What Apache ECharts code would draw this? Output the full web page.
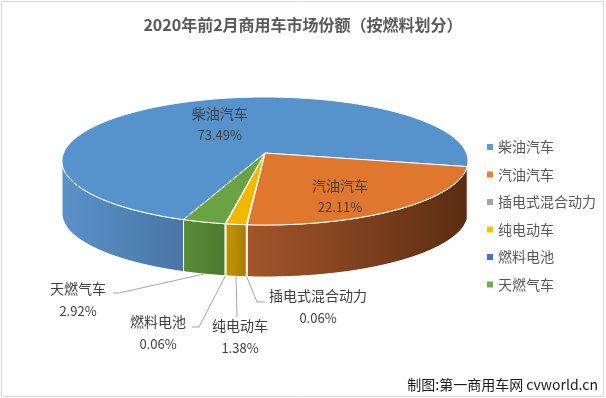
<!DOCTYPE html>
<html lang="zh">
<head>
<meta charset="UTF-8">
<title>2020年前2月商用车市场份额（按燃料划分）</title>
<script src="https://cdn.jsdelivr.net/npm/echarts@6/dist/echarts.min.js"></script>
<style>
  html, body { margin: 0; padding: 0; background: #fff; }
  #main { width: 606px; height: 398px; }
</style>
</head>
<body>
<div id="main"></div>
<script>
// 数据
var categories = ['柴油汽车', '汽油汽车', '插电式混合动力', '纯电动车', '燃料电池', '天燃气车'];
var shares = [73.49, 22.11, 0.06, 1.38, 0.06, 2.92];

// 颜色
var topColors = ['#5692cc', '#e0772f', '#a5a5a5', '#f2b800', '#4472c4', '#6aa343'];
var sideColors = [
    ['#5a91c9', '#4876a6'],
    ['#a3552a', '#5a2d12'],
    ['#8c8c8c', '#707070'],
    ['#c49400', '#a87e00'],
    ['#3c64ab', '#2f4f88'],
    ['#5a8c37', '#4d7a2e']
];

// 3D 饼图几何 (像素)
var CX = 265, CY = 161, RX = 203, RY = 64, DEPTH = 52;
var APEX = [265, 153];
var START = 110.2;   // 第一块起始角(顺时针, 3点钟为0)
var WARP = 10;       // 透视扭曲

// 内部标签微调
var innerShift = { 0: [-1, -9], 1: [0, 3] };
// 外部标签布局
var outerLabels = {
    2: { bend: [257, 302], end: [265, 302], text: [318, 298] },
    3: { bend: [237, 317], end: [237, 317], text: [240, 328] },
    4: { bend: [199, 327], end: [192, 327], text: [158, 324] },
    5: { bend: [119, 293], end: [113, 293], text: [78, 291] }
};

var total = shares.reduce(function (a, b) { return a + b; }, 0);
var spans = [];
(function () {
    var acc = START;
    shares.forEach(function (v) {
        var s = v / total * 360;
        spans.push([acc, acc + s]);
        acc += s;
    });
})();

function rad(d) { return d * Math.PI / 180; }
function warp(th) { return th + WARP * Math.sin(rad(th - 90)); }
function pt(t, dy) {
    return [CX + RX * Math.cos(rad(t)), CY + RY * Math.sin(rad(t)) + (dy || 0)];
}
function arc(t1, t2, dy) {
    var pts = [];
    var n = Math.max(1, Math.ceil(Math.abs(t2 - t1)));
    for (var i = 0; i <= n; i++) {
        pts.push(pt(t1 + (t2 - t1) * i / n, dy));
    }
    return pts;
}

function labelText(str, x, y, size) {
    return {
        type: 'text',
        style: {
            text: str, x: x, y: y,
            textAlign: 'center', textVerticalAlign: 'middle',
            fill: '#404040',
            font: size + 'px "Noto Sans CJK SC", sans-serif'
        },
        z2: 10
    };
}

function renderSide(params, api) {
    var i = params.dataIndex;
    var t1 = warp(spans[i][0]), t2 = warp(spans[i][1]);
    var children = [];
    for (var k = -1; k <= 2; k++) {
        var lo = Math.max(t1, 360 * k), hi = Math.min(t2, 360 * k + 180);
        if (hi <= lo) continue;
        var poly = arc(lo, hi, 0).concat(arc(hi, lo, DEPTH));
        var xs = poly.map(function (p) { return p[0]; });
        var x0 = Math.min.apply(null, xs), x1 = Math.max.apply(null, xs);
        children.push({
            type: 'polygon',
            shape: { points: poly },
            style: {
                fill: new echarts.graphic.LinearGradient(x0, 0, x1, 0, [
                    { offset: 0, color: sideColors[i][0] },
                    { offset: 1, color: sideColors[i][1] }
                ], true),
                stroke: '#ffffff',
                lineWidth: 1
            }
        });
    }
    return { type: 'group', children: children };
}

function renderTop(params, api) {
    var i = params.dataIndex;
    var t1 = warp(spans[i][0]), t2 = warp(spans[i][1]);
    var children = [{
        type: 'polygon',
        shape: { points: [APEX].concat(arc(t1, t2, 0)) },
        style: { fill: topColors[i], stroke: '#ffffff', lineWidth: 1 }
    }];
    var pct = api.value(0).toFixed(2) + '%';
    var mid = (spans[i][0] + spans[i][1]) / 2;
    if (outerLabels[i]) {
        var L = outerLabels[i];
        var s = pt(warp(mid), DEPTH);
        children.push({
            type: 'polyline',
            shape: { points: [s, L.bend, L.end] },
            style: { stroke: '#a6a6a6', lineWidth: 1, fill: null },
            z2: 5
        });
        children.push(labelText(categories[i], L.text[0], L.text[1] - 2, 14));
        children.push(labelText(pct, L.text[0], L.text[1] + 20, 13));
    } else {
        var c = pt(warp(mid), 0);
        var f = 0.56;
        var sh = innerShift[i] || [0, 0];
        var x = CX + (c[0] - CX) * f + sh[0], y = CY + (c[1] - CY) * f + 6 + sh[1];
        children.push(labelText(categories[i], x, y - 11, 14));
        children.push(labelText(pct, x, y + 10, 13));
    }
    return { type: 'group', children: children };
}

var chart = echarts.init(document.getElementById('main'));

var option = {
    animation: false,
    color: ['#5b9bd5', '#ed7d31', '#a5a5a5', '#ffc000', '#4472c4', '#70ad47'],
    title: {
        text: '2020年前2月商用车市场份额（按燃料划分）',
        left: 'center',
        top: 12,
        textStyle: {
            fontFamily: '"Noto Sans CJK SC", sans-serif',
            fontSize: 16,
            fontWeight: 'bold',
            color: '#595959'
        }
    },
    legend: {
        orient: 'vertical',
        left: 482,
        top: 134,
        itemWidth: 6,
        itemHeight: 6,
        itemGap: 11.5,
        icon: 'rect',
        selectedMode: false,
        data: categories,
        textStyle: {
            fontFamily: '"Noto Sans CJK SC", sans-serif',
            fontSize: 14,
            lineHeight: 16,
            color: '#595959'
        }
    },
    graphic: [
        {
            type: 'rect',
            shape: { x: 1.5, y: 1.5, width: 602, height: 395 },
            style: { fill: null, stroke: '#d9d9d9', lineWidth: 1 },
            silent: true
        },
        {
            type: 'text',
            right: 8,
            bottom: 6,
            style: {
                text: '制图:第一商用车网 cvworld.cn',
                fill: '#1a1a1a',
                font: '14px "Noto Sans CJK SC", sans-serif'
            }
        }
    ],
    series: [
        {
            // 仅用于图例
            type: 'pie',
            center: [-200, -200],
            radius: [0, 1],
            silent: true,
            label: { show: false },
            labelLine: { show: false },
            data: categories.map(function (n, i) { return { name: n, value: shares[i] }; })
        },
        {
            type: 'custom',
            coordinateSystem: 'none',
            silent: true,
            z: 2,
            renderItem: renderSide,
            data: shares.map(function (v) { return [v]; })
        },
        {
            type: 'custom',
            coordinateSystem: 'none',
            silent: true,
            z: 3,
            renderItem: renderTop,
            data: shares.map(function (v) { return [v]; })
        }
    ]
};

chart.setOption(option);
</script>
</body>
</html>
